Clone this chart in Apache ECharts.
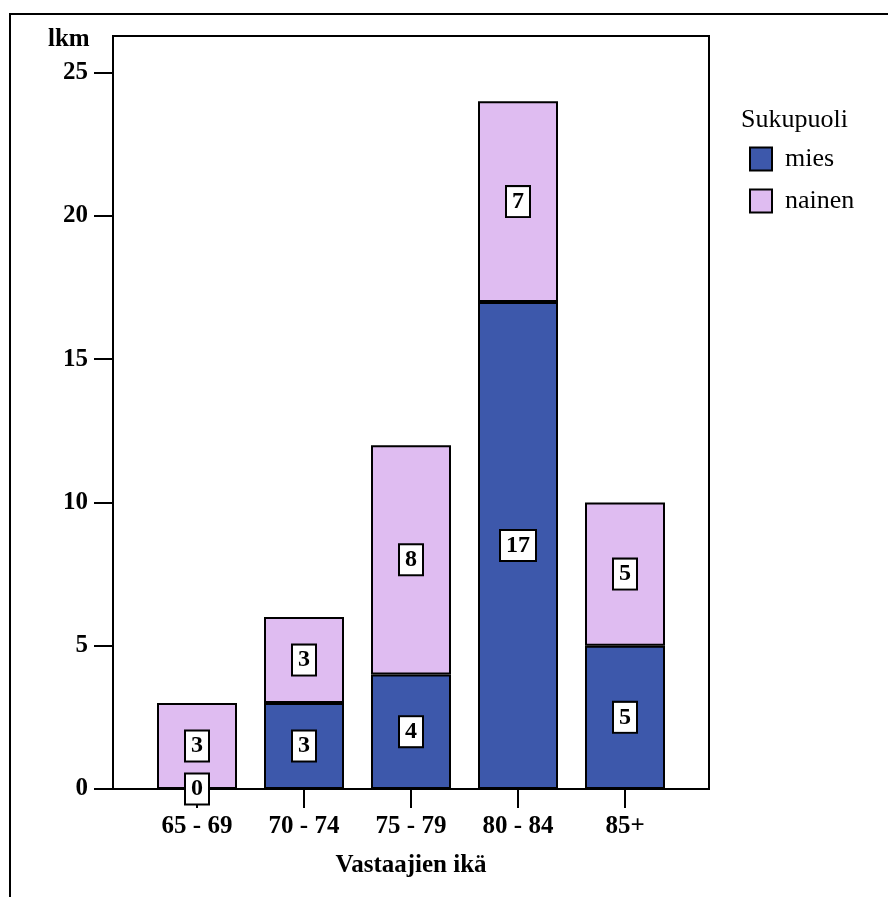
<!DOCTYPE html>
<html>
<head>
<meta charset="utf-8">
<script src="https://cdn.jsdelivr.net/npm/echarts@6/dist/echarts.min.js"></script>
<style>
html,body{margin:0;padding:0;background:#fff;}
#chart{width:888px;height:897px;}
</style>
</head>
<body>
<div id="chart"></div>
<script>
var categories = ['65 - 69', '70 - 74', '75 - 79', '80 - 84', '85+'];
var miesValues = [0, 3, 4, 17, 5];
var nainenValues = [3, 3, 8, 7, 5];
var yTickValues = [0, 5, 10, 15, 20, 25];
var seriesNames = ['mies', 'nainen'];
var legendTitle = 'Sukupuoli';
var yAxisName = 'lkm';
var xAxisName = 'Vastaajien ikä';

var FONT = 'Liberation Serif';
var Y_MAX = 26.28;

var labelOpt = {
  show: true,
  position: 'inside',
  color: '#000',
  fontFamily: FONT,
  fontWeight: 'bold',
  fontSize: 24,
  backgroundColor: '#fff',
  borderColor: '#000',
  borderWidth: 2,
  padding: [3, 5, 2, 5]
};

var chart = echarts.init(document.getElementById('chart'), null, { renderer: 'canvas' });
chart.setOption({
  backgroundColor: '#fff',
  animation: false,
  title: [{
    text: legendTitle,
    left: 741,
    top: 107,
    padding: 0,
    textStyle: { fontFamily: FONT, fontWeight: 'normal', fontSize: 26, color: '#000' }
  }, {
    text: yAxisName,
    left: 48,
    top: 27,
    padding: 0,
    textStyle: { fontFamily: FONT, fontWeight: 'bold', fontSize: 25, color: '#000' }
  }],
  legend: {
    orient: 'vertical',
    left: 749,
    top: 146,
    padding: 0,
    icon: 'rect',
    itemWidth: 22,
    itemHeight: 23,
    itemGap: 16,
    data: seriesNames,
    textStyle: { fontFamily: FONT, fontSize: 26, color: '#000', padding: [0, 0, 0, 8] }
  },
  graphic: [{
    type: 'polyline',
    shape: { points: [[10, 897], [10, 14], [888, 14]] },
    style: { stroke: '#000', lineWidth: 2, fill: null }
  }],
  grid: [{
    left: 113, right: 179, top: 36, bottom: 108,
    show: true, borderColor: '#000', borderWidth: 2, backgroundColor: 'transparent'
  }, {
    left: 143.5, width: 535, top: 36, bottom: 108,
    show: false
  }],
  xAxis: [{
    gridIndex: 0,
    type: 'value',
    show: false
  }, {
    gridIndex: 1,
    type: 'category',
    data: categories,
    splitLine: { show: false },
    axisLine: { show: false },
    axisTick: { show: true, alignWithLabel: true, length: 19, lineStyle: { color: '#000', width: 2 } },
    axisLabel: {
      margin: 25,
      color: '#000',
      fontFamily: FONT,
      fontWeight: 'bold',
      fontSize: 25
    },
    name: xAxisName,
    nameLocation: 'middle',
    nameGap: 77,
    nameTextStyle: { fontFamily: FONT, fontWeight: 'bold', fontSize: 25, color: '#000', verticalAlign: 'middle' }
  }],
  yAxis: [{
    gridIndex: 0,
    type: 'value',
    min: 0,
    max: Y_MAX,
    splitLine: { show: false },
    axisLine: { show: true, lineStyle: { color: '#000', width: 2 } },
    axisTick: { show: true, length: 19, lineStyle: { color: '#000', width: 2 }, customValues: yTickValues },
    axisLabel: {
      customValues: yTickValues,
      margin: 25,
      color: '#000',
      fontFamily: FONT,
      fontWeight: 'bold',
      fontSize: 25
    }
  }, {
    gridIndex: 1,
    type: 'value',
    min: 0,
    max: Y_MAX,
    show: false,
    splitLine: { show: false }
  }],
  series: [{
    name: seriesNames[0],
    type: 'bar',
    xAxisIndex: 1,
    yAxisIndex: 1,
    stack: 'total',
    barWidth: 80,
    data: miesValues,
    itemStyle: { color: '#3d58ab', borderColor: '#000', borderWidth: 2 },
    label: labelOpt,
    z: 2
  }, {
    name: seriesNames[1],
    type: 'bar',
    xAxisIndex: 1,
    yAxisIndex: 1,
    stack: 'total',
    barWidth: 80,
    data: nainenValues,
    itemStyle: { color: '#dfbcf1', borderColor: '#000', borderWidth: 2 },
    label: labelOpt,
    z: 1
  }]
});
</script>
</body>
</html>
